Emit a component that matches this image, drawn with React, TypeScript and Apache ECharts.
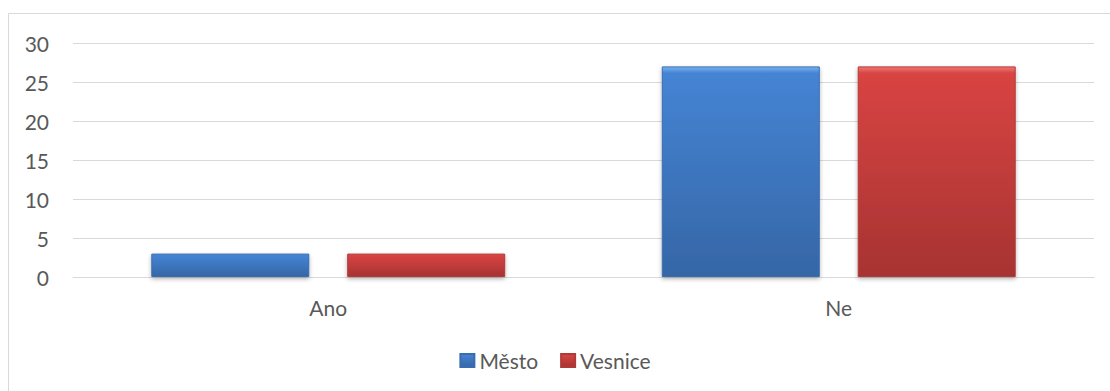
import React, { useEffect, useRef } from "react";
import * as echarts from "echarts";

const categories = ["Ano", "Ne"];
const mestoValues = [3, 27];
const vesniceValues = [3, 27];
const seriesNames = ["Město", "Vesnice"];
const yTicks = { min: 0, max: 30, interval: 5 };

const FONT = "Lato, 'Open Sans', sans-serif";
const TEXT = "#595959";

function grad(top: string, mid: string, bottom: string) {
  return new echarts.graphic.LinearGradient(0, 0, 0, 1, [
    { offset: 0, color: top },
    { offset: 0.03, color: mid },
    { offset: 1, color: bottom },
  ]);
}

export default function App() {
  const ref = useRef<HTMLDivElement>(null);
  useEffect(() => {
    if (!ref.current) return;
    const chart = echarts.init(ref.current, undefined, { renderer: "svg" });
    const barStyle = (top: string, mid: string, bottom: string, border: string) => ({
      color: grad(top, mid, bottom),
      borderColor: border,
      borderWidth: 1,
      shadowBlur: 4,
      shadowOffsetY: 2,
      shadowColor: "rgba(0,0,0,0.3)",
    });
    chart.setOption({
      animation: false,
      graphic: [
        {
          type: "rect",
          shape: { x: 8.5, y: 13.5, width: 1110, height: 400 },
          style: { fill: "none", stroke: "#d9d9d9", lineWidth: 1 },
          silent: true,
        },
      ],
      grid: { left: 73, right: 16, top: 43, bottom: 114 },
      legend: {
        bottom: 15,
        left: "center",
        icon: "rect",
        itemWidth: 14,
        itemHeight: 13,
        itemGap: 22,
        textStyle: { fontFamily: FONT, fontSize: 21, color: TEXT },
        data: seriesNames,
      },
      xAxis: {
        type: "category",
        data: categories,
        axisLine: { lineStyle: { color: "#d9d9d9", width: 1 } },
        axisTick: { show: false },
        axisLabel: { fontFamily: FONT, fontSize: 21, color: TEXT, margin: 20 },
      },
      yAxis: {
        type: "value",
        min: yTicks.min,
        max: yTicks.max,
        interval: yTicks.interval,
        axisLine: { show: false },
        axisTick: { show: false },
        splitLine: { lineStyle: { color: "#d9d9d9", width: 1 } },
        axisLabel: { fontFamily: FONT, fontSize: 21, color: TEXT, margin: 24 },
      },
      series: [
        {
          name: seriesNames[0],
          type: "bar",
          data: mestoValues,
          barWidth: 158,
          barGap: "24%",
          itemStyle: barStyle("#79b2ee", "#4584d4", "#3566a6", "#3a6db0"),
        },
        {
          name: seriesNames[1],
          type: "bar",
          data: vesniceValues,
          barWidth: 158,
          barGap: "24%",
          itemStyle: barStyle("#f07a78", "#d84442", "#a73332", "#b03a38"),
        },
      ],
    });
    return () => chart.dispose();
  }, []);
  return (
    <div
      ref={ref}
      style={{ position: "absolute", left: 0, top: 0, width: 1110, height: 391 }}
    />
  );
}
